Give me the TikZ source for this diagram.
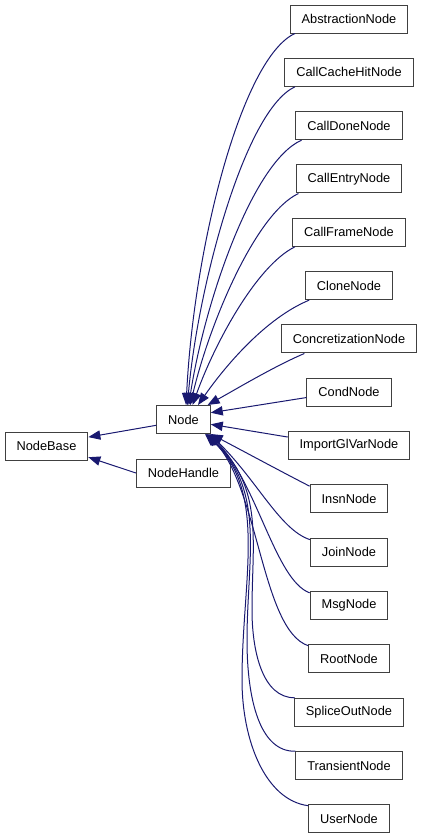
\documentclass[tikz,border=0pt]{standalone}
\usepackage{fontspec}
\setmainfont{Liberation Sans}
\usetikzlibrary{arrows.meta}
\definecolor{edgeblue}{RGB}{25,25,112}
\tikzset{
  cls/.style={draw=black!75, fill=white, line width=0.75pt, minimum height=21pt,
    inner xsep=8.6pt, inner ysep=0pt, font=\fontsize{9.6}{11}\selectfont},
  inh/.style={->, draw=edgeblue, line width=0.75pt},
}
\begin{document}
\begin{tikzpicture}[x=0.75pt, y=-0.75pt, >={Triangle[length=9pt,width=7pt]}]
\useasboundingbox (0,0) rectangle (424,840);

\node[cls] (nodebase) at (46.5,446) {NodeBase};
\node[cls] (node) at (183.5,419.5) {Node};
\node[cls] (nodehandle) at (183.5,473) {NodeHandle};

\foreach \name/\txt [count=\k from 0] in {abstraction/AbstractionNode,
  callcachehit/CallCacheHitNode, calldone/CallDoneNode, callentry/CallEntryNode,
  callframe/CallFrameNode, clone/CloneNode, concretization/ConcretizationNode,
  cond/CondNode, importglvar/ImportGlVarNode, insn/InsnNode, join/JoinNode,
  msg/MsgNode, root/RootNode, spliceout/SpliceOutNode, transient/TransientNode,
  user/UserNode}
{
  \node[cls] (\name) at (349,19+53.33*\k) {\txt};
}

\draw[inh] (node.192) -- (nodebase.12);
\draw[inh] (nodehandle.west) -- (nodebase.-15);

% upper subclasses
\draw[inh] (abstraction.195) .. controls (242,58) and (194,245) .. (node.80);
\draw[inh] (callcachehit.195) .. controls (245,110) and (198,285) .. (node.75);
\draw[inh] (calldone.197) .. controls (252,162) and (204,305) .. (node.70);
\draw[inh] (callentry.196) .. controls (255,214) and (209,325) .. (node.65);
\draw[inh] (callframe.195) .. controls (256,266) and (214,345) .. (node.58);
\draw[inh] (clone.200) .. controls (266,318) and (226,365) .. (node.45);
\draw[inh] (concretization.198) .. controls (275,366) and (238,388) .. (node.31);
\draw[inh] (cond.187) -- (node.14);
\draw[inh] (importglvar.172) -- (node.-10);
% lower subclasses
\draw[inh] (insn.162) .. controls (282,472) and (245,452) .. (node.-28);
\draw[inh] (join.162) .. controls (280,530) and (257,480) .. (node.-29);
\draw[inh] (msg.162) .. controls (275,580) and (257,482) .. (node.-30);
\draw[inh] (root.162) .. controls (262,630) and (259,490) .. (node.-31);
\draw[inh] (spliceout.165) .. controls (262,698) and (252,650)
  .. (252,610) .. controls (252,540) and (264,488) .. (node.-32);
\draw[inh] (transient.165) .. controls (260,752) and (247,700)
  .. (247,640) .. controls (247,560) and (266,490) .. (node.-33);
\draw[inh] (user.162) .. controls (265,800) and (242,740)
  .. (242,680) .. controls (242,580) and (268,492) .. (node.-34);
\end{tikzpicture}
\end{document}
